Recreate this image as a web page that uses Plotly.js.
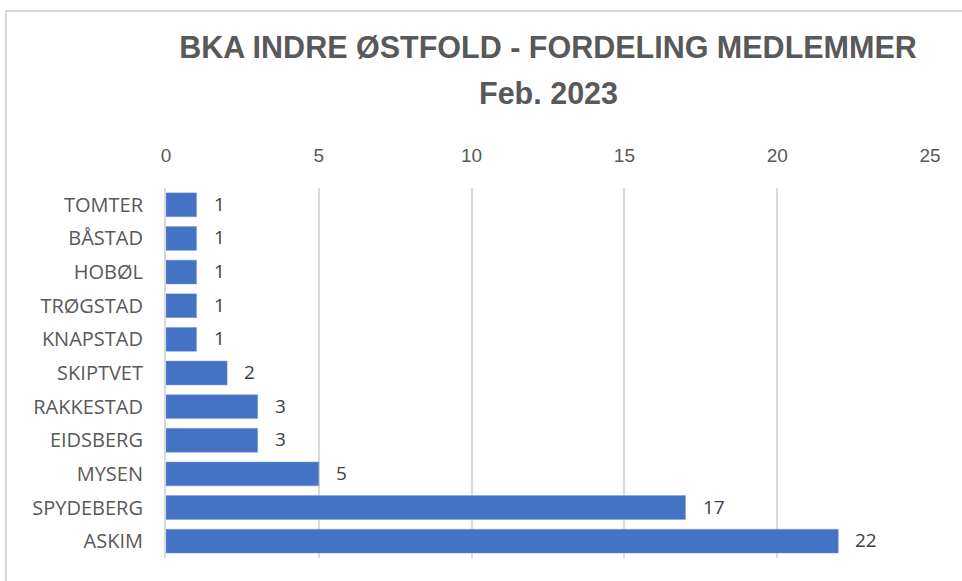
<!DOCTYPE html>
<html>
<head>
<meta charset="utf-8">
<script src="https://cdn.plot.ly/plotly-3.0.1.min.js"></script>
<style>
html,body{margin:0;padding:0;background:#fff;overflow:hidden;}
#frame{position:absolute;left:5px;top:10px;width:1000px;height:700px;border:2px solid #d9d9d9;box-sizing:border-box;pointer-events:none;z-index:5;}
#chart{position:absolute;left:0;top:0;width:962px;height:581px;}
</style>
</head>
<body>
<div id="chart"></div>
<div id="frame"></div>
<script>
const categories = ["TOMTER","BÅSTAD","HOBØL","TRØGSTAD","KNAPSTAD","SKIPTVET","RAKKESTAD","EIDSBERG","MYSEN","SPYDEBERG","ASKIM"];
const members = [1,1,1,1,1,2,3,3,5,17,22];
const xTicks = [0,5,10,15,20,25];
const titleLine1 = "BKA INDRE ØSTFOLD - FORDELING MEDLEMMER";
const titleLine2 = "Feb. 2023";

const grey = "#595959";
const titleFont = {family: "'Liberation Sans',Arial,sans-serif", size: 30.5, color: grey};

const trace = {
  type: "bar",
  orientation: "h",
  y: categories,
  x: members,
  marker: {color: "#4472C4", line: {color: "#7f9fd8", width: 0.5}},
  hoverinfo: "skip",
  cliponaxis: false
};

const annotations = members.map((v, i) => ({
  x: v, y: categories[i], xref: "x", yref: "y",
  text: String(v), showarrow: false, xanchor: "left", yanchor: "middle",
  xshift: 15, yshift: 1,
  font: {family: "'Open Sans','Liberation Sans',sans-serif", size: 19, color: "#404040"}
}));

annotations.push({
  xref: "paper", yref: "paper", x: 0.5, y: 1.257,
  xanchor: "center", yanchor: "middle", showarrow: false,
  text: "<b>" + titleLine2 + "</b>",
  font: titleFont
});

const layout = {
  width: 962, height: 581,
  margin: {l: 166, r: 32, t: 188, b: 23},
  paper_bgcolor: "#fff", plot_bgcolor: "#fff",
  showlegend: false,
  bargap: 0.29,
  title: {
    text: "<b>" + titleLine1 + "</b>",
    x: 0.5, xref: "paper", xanchor: "center",
    y: 1 - 47 / 581, yref: "container", yanchor: "middle",
    font: titleFont
  },
  xaxis: {
    side: "top",
    range: [0, 25],
    tickvals: xTicks,
    ticktext: xTicks.map(String),
    showgrid: true, gridcolor: "#d9d9d9", gridwidth: 2,
    zeroline: false, showline: false, ticks: "",
    ticklabelstandoff: 21,
    tickfont: {family: "'Liberation Sans',sans-serif", size: 19, color: grey},
    fixedrange: true
  },
  yaxis: {
    autorange: "reversed",
    type: "category",
    showline: true, linecolor: "#d9d9d9", linewidth: 2,
    showgrid: false, zeroline: false, ticks: "",
    ticklabelstandoff: 17,
    tickfont: {family: "'Open Sans','Liberation Sans',sans-serif", size: 20, color: grey},
    fixedrange: true
  },
  annotations: annotations
};

Plotly.newPlot("chart", [trace], layout, {displayModeBar: false, staticPlot: true});
</script>
</body>
</html>
